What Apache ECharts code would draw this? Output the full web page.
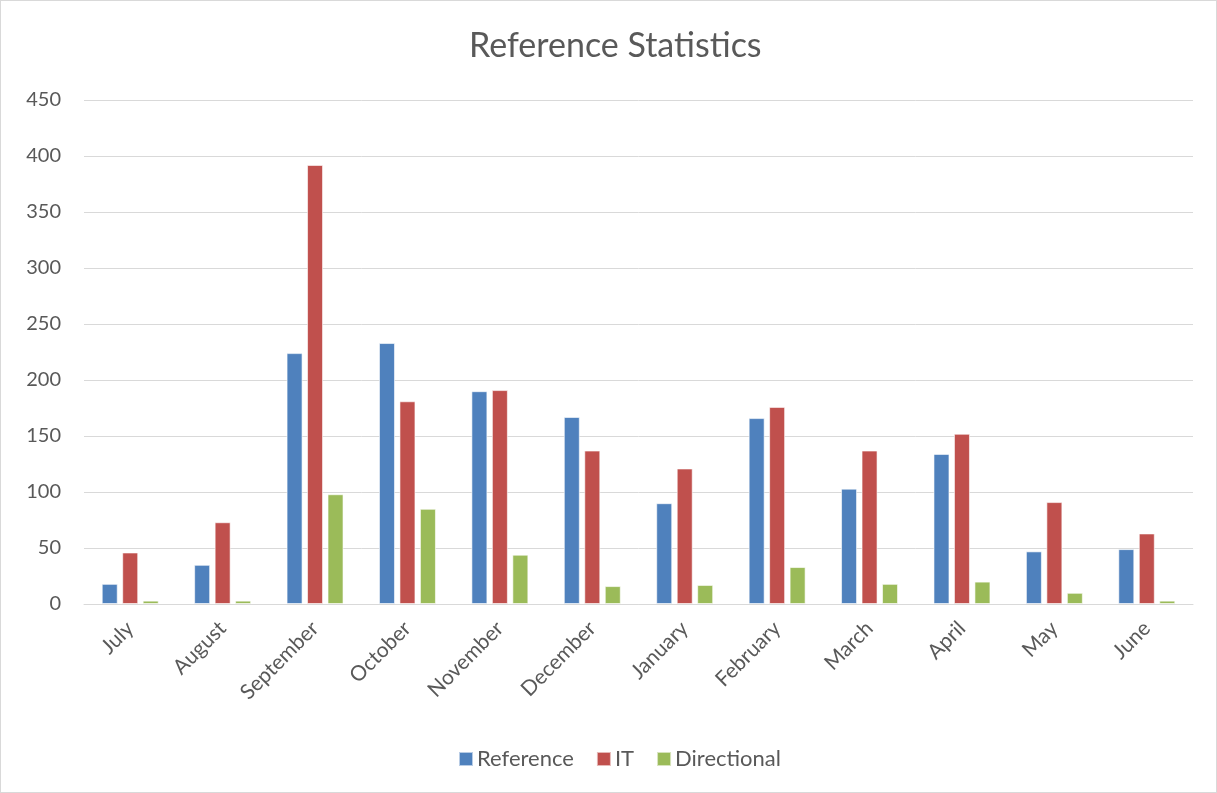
<!DOCTYPE html>
<html>
<head>
<meta charset="utf-8">
<script src="https://cdn.jsdelivr.net/npm/echarts@6/dist/echarts.min.js"></script>
<style>
  html, body { margin: 0; padding: 0; background: #fff; }
  #chart { width: 1215px; height: 791px; border: 1px solid #d9d9d9; }
</style>
</head>
<body>
<div id="chart"></div>
<script>
// Monthly reference-desk counts by question type
const months = ['July', 'August', 'September', 'October', 'November', 'December',
                'January', 'February', 'March', 'April', 'May', 'June'];
const referenceCounts   = [18, 35, 224, 233, 190, 167, 90, 166, 103, 134, 47, 49];
const itCounts          = [46, 73, 392, 181, 191, 137, 121, 176, 137, 152, 91, 63];
const directionalCounts = [3, 3, 98, 85, 44, 16, 17, 33, 18, 20, 10, 3];

const FONT = 'Lato, "Open Sans", sans-serif';
const TEXT = '#595959';

const chart = echarts.init(document.getElementById('chart'));

function barSeries(name, data, color) {
  return {
    name: name,
    type: 'bar',
    data: data,
    barWidth: 16,
    barGap: '28%',
    itemStyle: { color: color, borderColor: 'rgba(255,255,255,0.6)', borderWidth: 1 }
  };
}

chart.setOption({
  animation: false,
  backgroundColor: '#fff',
  title: {
    text: 'Reference Statistics',
    left: 463,
    top: 23,
    textStyle: { fontFamily: FONT, fontSize: 34, fontWeight: 'normal', color: TEXT }
  },
  legend: {
    top: 742,
    left: 452,
    itemWidth: 14,
    itemHeight: 14,
    itemGap: 22,
    icon: 'rect',
    textStyle: { fontFamily: FONT, fontSize: 22, color: TEXT, padding: [0, 0, 0, -1] },
    data: ['Reference', 'IT', 'Directional']
  },
  grid: { left: 83, right: 23, top: 99, bottom: 188, containLabel: false },
  xAxis: {
    type: 'category',
    data: months,
    axisLine: { lineStyle: { color: '#d9d9d9', width: 1 } },
    axisTick: { show: false },
    axisLabel: {
      rotate: 45,
      interval: 0,
      margin: 21,
      fontFamily: FONT,
      fontSize: 21,
      color: TEXT
    }
  },
  yAxis: {
    type: 'value',
    min: 0,
    max: 450,
    interval: 50,
    axisLine: { show: false },
    axisTick: { show: false },
    splitLine: { lineStyle: { color: '#d9d9d9', width: 1 } },
    axisLabel: { fontFamily: FONT, fontSize: 20, color: TEXT, margin: 23 }
  },
  series: [
    barSeries('Reference', referenceCounts, '#4f81bd'),
    barSeries('IT', itCounts, '#c0504d'),
    barSeries('Directional', directionalCounts, '#9bbb59')
  ]
});
</script>
</body>
</html>
